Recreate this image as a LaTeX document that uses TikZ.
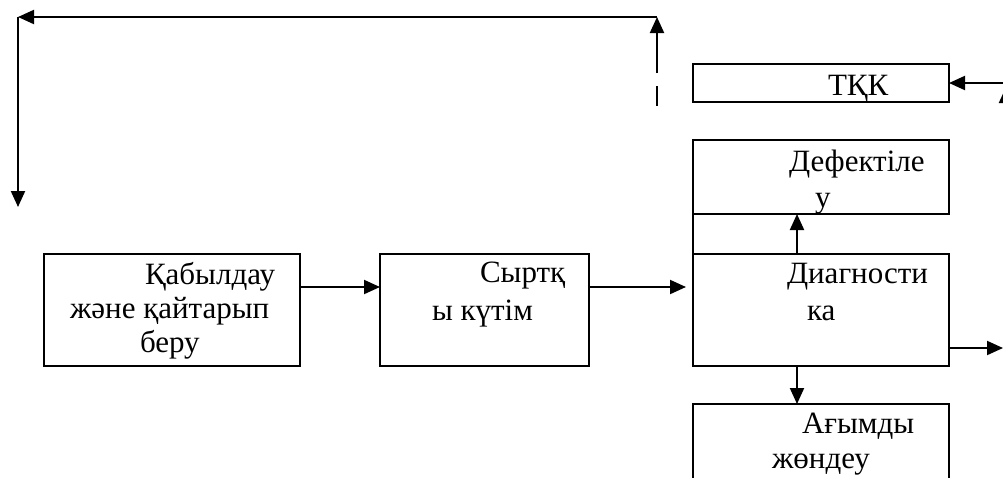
\documentclass[tikz,border=0pt]{standalone}
\usepackage{fontspec}
\setmainfont{Liberation Serif}
\usetikzlibrary{arrows.meta}
\begin{document}
\begin{tikzpicture}[x=1pt,y=-1pt,
  box/.style={draw=black,line width=2pt,rectangle,inner sep=0pt,outer sep=0pt},
  lbl/.style={anchor=base west,inner sep=0pt,outer sep=0pt,font=\fontsize{31}{35}\selectfont},
  arr/.style={line width=2pt,-{Triangle[length=16pt,width=14pt]}},
  ln/.style={line width=2pt}]
\useasboundingbox (0,0) rectangle (1003,477);
% boxes
\node[box,minimum width=256pt,minimum height=112pt] (b1) at (172,310) {};
\node[box,minimum width=209pt,minimum height=112pt] (b2) at (484.5,310) {};
\node[box,minimum width=256pt,minimum height=112pt] (diag) at (821,310) {};
\node[box,minimum width=256pt,minimum height=74pt] (def) at (821,177) {};
\node[box,minimum width=256pt,minimum height=38pt] (tkk) at (821,83) {};
\node[box,minimum width=256pt,minimum height=86pt] (agym) at (821,447) {};
% texts
\node[lbl] (t1a) at (145,284) {Қабылдау};
\node[lbl] (t1b) at (70,318) {және қайтарып};
\node[lbl] (t1c) at (140,352) {беру};
\node[lbl] (t2a) at (480,282) {Сыртқ};
\node[lbl] (t2b) at (432,320) {ы күтім};
\node[lbl] (t3a) at (787,283) {Диагности};
\node[lbl] (t3b) at (807,320) {ка};
\node[lbl] (t4a) at (789,171) {Дефектіле};
\node[lbl] (t4b) at (815,207) {у};
\node[lbl] (t5) at (828,95) {ТҚК};
\node[lbl] (t6a) at (802,433) {Ағымды};
\node[lbl] (t6b) at (772,468) {жөндеу};
% coordinates
\coordinate (fb0) at (657,73);
\coordinate (fb1) at (657,17);
\coordinate (fb2) at (18,17);
\coordinate (fb3) at (18,207);
\coordinate (ds0) at (657,86);
\coordinate (ds1) at (657,106);
\coordinate (tin) at (1003,83);
\coordinate (up0) at (1006,140);
\coordinate (up1) at (1006,87);
\coordinate (dout) at (1003,348);
% connectors
\draw[arr] ([yshift=-33pt]b1.north east) -- ([yshift=-33pt]b2.north west);
\draw[arr,shorten >=7pt] ([yshift=-33pt]b2.north east) -- ([yshift=-33pt]diag.north west);
\draw[arr] ([xshift=-24pt]diag.north) -- ([xshift=-24pt]def.south);
\draw[ln] (diag.north west) -- (def.south west);
\draw[arr] ([xshift=-24pt]diag.south) -- ([xshift=-24pt]agym.north);
\draw[arr] ([yshift=18pt]diag.south east) -- (dout);
\draw[arr] (tin) -- (tkk.east);
\draw[arr] (up0) -- (up1);
\draw[arr] (fb0) -- (fb1);
\draw[arr] (fb1) -- (fb2);
\draw[arr] (fb2) -- (fb3);
\draw[ln] (ds0) -- (ds1);
\end{tikzpicture}
\end{document}
